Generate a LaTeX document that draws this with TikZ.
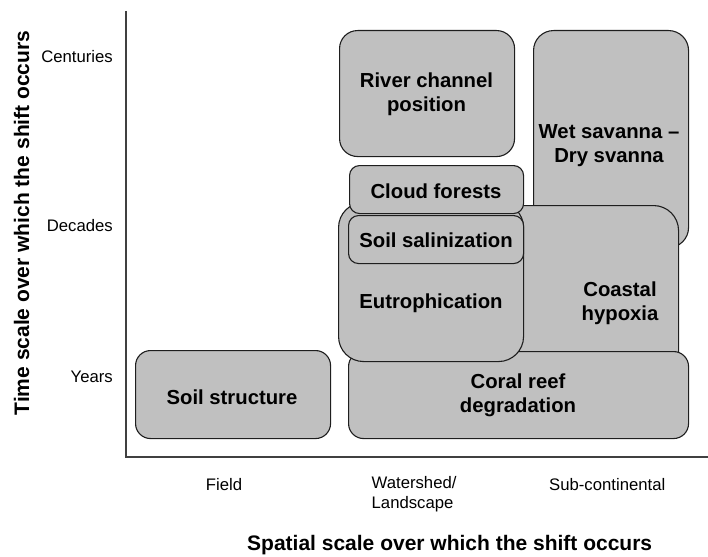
\documentclass[tikz,border=0pt]{standalone}
\usepackage{fontspec}
\setmainfont{Liberation Sans}
\definecolor{boxgray}{RGB}{192,192,192}
\definecolor{edge}{RGB}{30,30,30}
\begin{document}
\begin{tikzpicture}[x=1pt,y=-1pt,
  box/.style={draw=edge, fill=boxgray, line width=1.1pt, rectangle, anchor=north west, inner sep=0pt},
  lab/.style={font=\fontsize{20.3}{24}\selectfont\bfseries, align=center, inner sep=0pt},
  ticklab/.style={font=\fontsize{16.7}{20}\selectfont, inner sep=0pt},
  axtitle/.style={font=\fontsize{21}{25}\selectfont\bfseries, inner sep=0pt},
  axis/.style={draw=black!75, line width=1.3pt}]
\useasboundingbox (0,0) rectangle (708,556);

% axes
\coordinate (ytop) at (126,11);
\coordinate (origin) at (126,457);
\coordinate (xend) at (708,457);
\draw[axis] (ytop) -- (origin) -- (xend);

% boxes (drawing order = stacking order)
\node[box, rounded corners=20pt, minimum width=155pt, minimum height=217pt] (wet) at (533,30) {};
\node[box, rounded corners=25pt, minimum width=238pt, minimum height=190pt] (coastal) at (440,205) {};
\node[box, rounded corners=15pt, minimum width=340pt, minimum height=87pt] (coral) at (348,351) {};
\node[box, rounded corners=25pt, minimum width=185pt, minimum height=159pt] (eutro) at (338,202) {};
\node[box, rounded corners=10pt, minimum width=174pt, minimum height=48pt] (cloud) at (349,165) {};
\node[box, rounded corners=10pt, minimum width=175pt, minimum height=48pt] (salin) at (348,215) {};
\node[box, rounded corners=18pt, minimum width=175pt, minimum height=126pt] (river) at (339,30) {};
\node[box, rounded corners=15pt, minimum width=195pt, minimum height=88pt] (soilst) at (135,350) {};

% box labels
\node[lab] (wetl) at (609,146) {Wet savanna --\\Dry svanna};
\node[lab] (coastall) at (620,303) {Coastal\\hypoxia};
\node[lab] (corall) at (518,395) {Coral reef\\degradation};
\node[lab] (eutrol) at (431,303) {Eutrophication};
\node[lab] (cloudl) at (436,191) {Cloud forests};
\node[lab] (salinl) at (436,240) {Soil salinization};
\node[lab] (riverl) at (426.5,94) {River channel\\position};
\node[lab] (soilstl) at (232,397) {Soil structure};

% tick labels
\node[ticklab, anchor=east] (cent) at (113,57) {Centuries};
\node[ticklab, anchor=east] (dec) at (113,226) {Decades};
\node[ticklab, anchor=east] (yrs) at (113,377) {Years};
\node[ticklab] (field) at (224,485) {Field};
\node[ticklab, align=left, anchor=north west] (water) at (371.5,476) {Watershed/\\Landscape};
\node[ticklab, anchor=west] (subc) at (549,485) {Sub-continental};

% axis titles
\node[axtitle, anchor=west] (xtitle) at (247,545) {Spatial scale over which the shift occurs};
\node[axtitle, rotate=90] (ytitle) at (21.7,223) {Time scale over which the shift occurs};
\end{tikzpicture}
\end{document}
